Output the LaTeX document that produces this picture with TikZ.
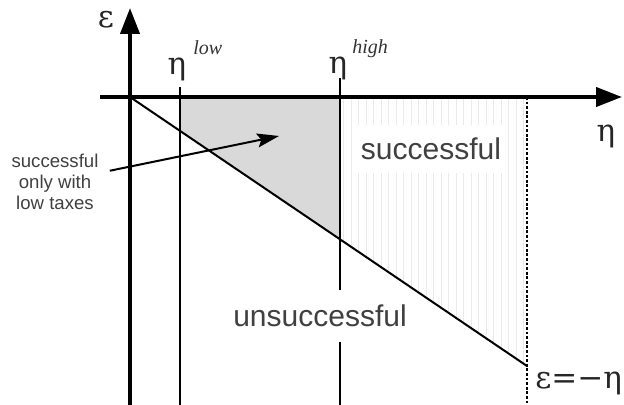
\documentclass[tikz,border=0pt]{standalone}
\usepackage{fontspec}
\setmainfont{Liberation Sans}
\newfontfamily\grk{DejaVu Serif}
\newfontfamily\supfont{Liberation Serif}
\usetikzlibrary{arrows.meta,positioning}
\definecolor{txtc}{HTML}{404040}
\definecolor{shadec}{HTML}{D9D9D9}
\definecolor{hatchc}{HTML}{EAEAEA}
\tikzset{
  axis/.style={line width=2pt,-{Triangle[length=13pt,width=9.5pt]}},
  vline/.style={line width=1pt},
  ar/.style={line width=1pt,-{Stealth[length=11pt,width=7pt,inset=2pt]}},
  region/.style={font=\fontsize{15}{18}\selectfont,text=txtc,fill=white,inner xsep=1.5pt},
  note/.style={font=\fontsize{9.3}{10.5}\selectfont,text=txtc,align=center,inner xsep=5.5pt},
  greek/.style={font=\grk\fontsize{15.5}{18}\selectfont,text=black!85,inner sep=0pt},
  sup/.style={font=\supfont\itshape\fontsize{10}{12}\selectfont,text=black!80,inner sep=0pt}
}
\begin{document}
\begin{tikzpicture}[x=0.5pt,y=-0.5pt]
\useasboundingbox (0,0) rectangle (624,405);
% corner points
\coordinate (O) at (130,97);
\coordinate (E) at (527,366);
\coordinate (lowA) at (180,97);
\coordinate (lowB) at (180,131);
\coordinate (highA) at (340,97);
\coordinate (highB) at (340,240);
% region with low taxes only
\fill[shadec] (lowA) -- (highA) -- (highB) -- (lowB) -- cycle;
% hatched region
\foreach \hx in {343.5,351,...,524}
  \draw[hatchc,line width=0.5pt] (\hx,97) -- (\hx,{97+(\hx-130)*0.6776});
% lines
\draw[vline] (180,87) -- (180,405);
\draw[vline] (340,78) -- (340,405);
\draw[line width=1.3pt,dash pattern=on 1.4pt off 0.9pt] (527,97) -- (527,405);
\draw[vline] (O) -- (E);
\draw[axis] (100,97) -- (622,97);
\draw[axis] (130,405) -- (130,8);
% labels
\node[greek] (eps) at (106,20) {ε};
\node[greek] (eta) at (606,136) {η};
\node[greek] (etalow) at (177,69) {η};
\node[sup,anchor=base west] (low) at (193,55) {low};
\node[greek] (etahigh) at (338,68) {η};
\node[sup,anchor=base west] (high) at (352,54) {high};
\node[greek,anchor=west] (line) at (535,383) {ε=−η};
\node[region,inner ysep=6.5pt] (succ) at (431,149) {successful};
\node[region,inner ysep=7.5pt] (unsucc) at (320,316) {unsuccessful};
\node[note] (lbl) at (55,182) {successful\\only with\\low taxes};
\coordinate (tip) at (279,136);
\draw[ar] (lbl) -- (tip);
\end{tikzpicture}
\end{document}
